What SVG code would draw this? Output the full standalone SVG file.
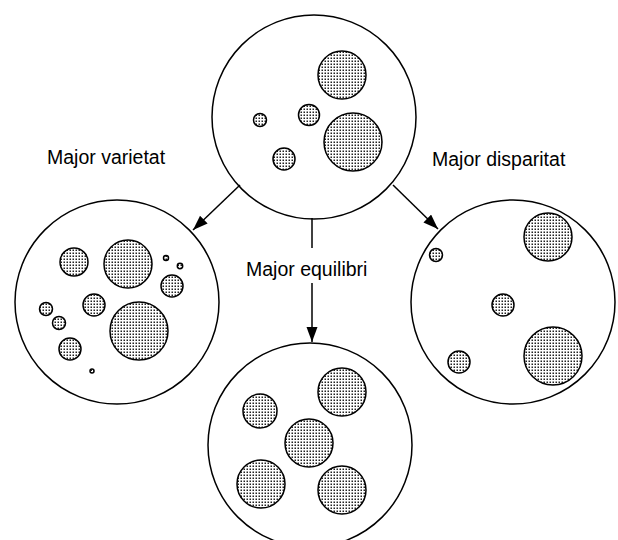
<svg xmlns="http://www.w3.org/2000/svg" width="618" height="540" viewBox="0 0 618 540">
<defs>
<pattern id="stip" patternUnits="userSpaceOnUse" width="3" height="3">
<rect width="3" height="3" fill="#ffffff"/>
<rect x="0.5" y="0.5" width="1.5" height="1.5" fill="#222"/>
</pattern>
<marker id="ah" markerUnits="userSpaceOnUse" markerWidth="16" markerHeight="12" refX="15" refY="5.5" orient="auto">
<path d="M0,0 L15,5.5 L0,11 Z" fill="#000"/>
</marker>
<style>
.big{fill:#fff;stroke:#000;stroke-width:1.5}
.dot{fill:url(#stip);stroke:#000;stroke-width:1.5}
.lbl{font-family:"Liberation Sans",Arial,sans-serif;font-size:19.5px;fill:#000}
.con{stroke:#000;stroke-width:1.5;fill:none}
</style>
</defs>
<rect width="618" height="540" fill="#fff"/>
<g id="node-top">
<circle class="big" cx="314" cy="117" r="102"/>
<circle class="dot" cx="342" cy="75" r="24"/>
<circle class="dot" cx="353" cy="142" r="29"/>
<circle class="dot" cx="309" cy="115" r="10.5"/>
<circle class="dot" cx="260" cy="120" r="6.5"/>
<circle class="dot" cx="284" cy="159" r="11"/>
</g>
<g id="node-left">
<circle class="big" cx="117" cy="302" r="102"/>
<circle class="dot" cx="74" cy="262" r="14"/>
<circle class="dot" cx="128" cy="264" r="24"/>
<circle class="dot" cx="166" cy="258" r="2.5"/>
<circle class="dot" cx="180" cy="266" r="2.7"/>
<circle class="dot" cx="172" cy="286" r="11"/>
<circle class="dot" cx="94" cy="305" r="11"/>
<circle class="dot" cx="46" cy="309" r="6.5"/>
<circle class="dot" cx="59" cy="323" r="6.5"/>
<circle class="dot" cx="139" cy="331" r="29"/>
<circle class="dot" cx="70" cy="349" r="11"/>
<circle class="dot" cx="92" cy="371" r="2"/>
</g>
<g id="node-right">
<circle class="big" cx="513" cy="302" r="102"/>
<circle class="dot" cx="548" cy="237" r="24"/>
<circle class="dot" cx="436" cy="255" r="6.5"/>
<circle class="dot" cx="503" cy="305" r="11"/>
<circle class="dot" cx="553" cy="356" r="29"/>
<circle class="dot" cx="459" cy="362" r="11"/>
</g>
<g id="node-bottom">
<circle class="big" cx="310" cy="445" r="102"/>
<circle class="dot" cx="342" cy="392" r="24"/>
<circle class="dot" cx="260" cy="411" r="17"/>
<circle class="dot" cx="309" cy="443" r="24"/>
<circle class="dot" cx="261" cy="484" r="24"/>
<circle class="dot" cx="342" cy="490" r="24"/>
</g>
<g id="connectors">
<line class="con" x1="240" y1="185" x2="193" y2="230" marker-end="url(#ah)"/>
<line class="con" x1="393" y1="185" x2="438" y2="229" marker-end="url(#ah)"/>
<line class="con" x1="312" y1="218" x2="312" y2="248"/>
<line class="con" x1="312" y1="283" x2="312" y2="342" marker-end="url(#ah)"/>
</g>
<g id="labels">
<text class="lbl" x="47" y="164">Major varietat</text>
<text class="lbl" x="432" y="166">Major disparitat</text>
<text class="lbl" x="246" y="276">Major equilibri</text>
</g>
</svg>
